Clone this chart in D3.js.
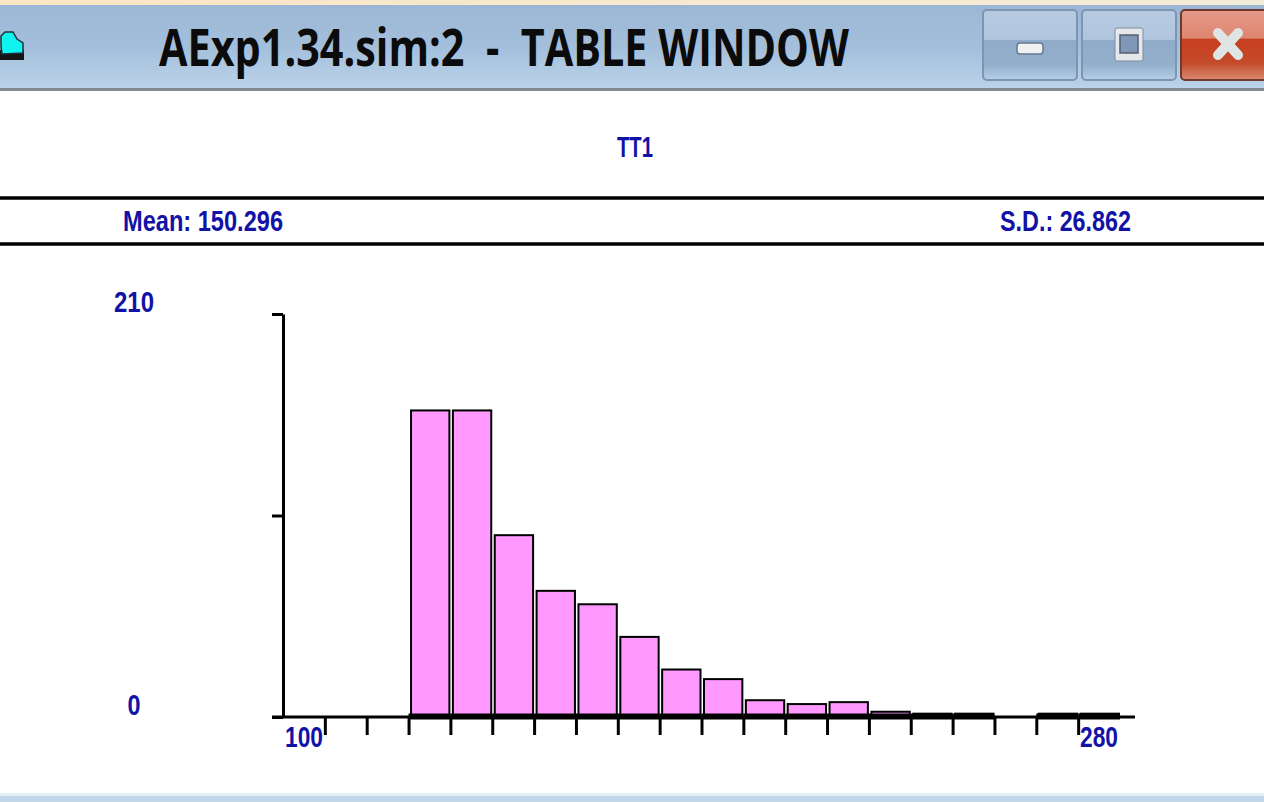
<!DOCTYPE html>
<html>
<head>
<meta charset="utf-8">
<title>TABLE WINDOW</title>
<script src="https://cdn.jsdelivr.net/npm/d3@7"></script>
<style>
  html, body { margin: 0; padding: 0; background: #fff; overflow: hidden; }
  svg { display: block; }
  .blue { fill: #1212a6; font-family: "Liberation Sans Narrow", "Liberation Sans", sans-serif; font-weight: 700; }
</style>
</head>
<body>
<div id="chart"></div>
<script>
// values
const windowTitle = 'AExp1.34.sim:2  -  TABLE WINDOW'
const variableName = 'TT1'
const meanLabel = 'Mean: 150.296'
const sdLabel = 'S.D.: 26.862'
const xMin = 100
const xMax = 280
const yTickValues = [0, 105, 210]
const yLabels = [0, 210]
const xLabels = [100, 280]
const binCounts = [0, 0, 0, 160, 160, 95, 66, 59, 42, 25, 20, 9, 7, 8, 3, 2, 2, 0, 2, 2]

const width = 1264, height = 802
const binWidth = (xMax - xMin) / binCounts.length
const bins = binCounts.map((count, i) => ({ x0: xMin + i * binWidth, x1: xMin + (i + 1) * binWidth, count }))

const svg = d3.select('#chart').append('svg')
  .attr('width', width)
  .attr('height', height)

svg.append('rect').attr('width', width).attr('height', height).attr('fill', '#fff')

const defs = svg.append('defs')
function gradient(id, stops, horizontal) {
  const g = defs.append('linearGradient').attr('id', id)
    .attr('x1', 0).attr('y1', 0)
    .attr('x2', horizontal ? 1 : 0).attr('y2', horizontal ? 0 : 1)
  stops.forEach(s => g.append('stop').attr('offset', s[0]).attr('stop-color', s[1]))
}
gradient('strip', [[0, '#fbe6c4'], [1, '#f3ecd8']], true)
gradient('bar', [[0, '#9bb7d5'], [0.5, '#a3bfdb'], [1, '#bcd3ea']])
gradient('btn', [[0, '#b6cbe2'], [0.42, '#b0c6de'], [0.43, '#90abc9'], [0.78, '#94afcc'], [1, '#b5cee6']])
gradient('close', [[0, '#e59a88'], [0.4, '#dd8672'], [0.42, '#c8401f'], [0.75, '#c44a2a'], [1, '#d98a70']])

// window frame
svg.append('rect').attr('width', width).attr('height', 5).attr('fill', 'url(#strip)')
svg.append('rect').attr('y', 5).attr('width', width).attr('height', 84).attr('fill', 'url(#bar)')
svg.append('rect').attr('y', 88).attr('width', width).attr('height', 3).attr('fill', '#858a90')
svg.append('rect').attr('y', 793).attr('width', width).attr('height', 3).attr('fill', '#e6eff6')
svg.append('rect').attr('y', 796).attr('width', width).attr('height', 6).attr('fill', '#c3d7ea')

// app icon, dark shadow under a cyan blob
svg.append('path')
  .attr('d', 'M0 50 L24 50 L24 60 L0 60 Z')
  .attr('fill', '#141414')
svg.append('path')
  .attr('d', 'M1 36 L5 32 L13 32 L17 39 L23 43 L23 53 L2 54 L1 46 Z')
  .attr('fill', '#10f4f0').attr('stroke', '#20303a').attr('stroke-width', 1.5)

svg.append('text')
  .attr('x', 159).attr('y', 66)
  .attr('xml:space', 'preserve')
  .attr('textLength', 690).attr('lengthAdjust', 'spacingAndGlyphs')
  .attr('font-family', '"Open Sans", "Noto Sans", sans-serif')
  .attr('font-weight', 700).attr('font-size', 52)
  .attr('fill', '#0b0b0b')
  .text(windowTitle)

// window buttons
const buttons = [
  { x: 983, w: 94, fill: 'url(#btn)', stroke: '#7d95b0' },
  { x: 1082, w: 94, fill: 'url(#btn)', stroke: '#7d95b0' },
  { x: 1181, w: 90, fill: 'url(#close)', stroke: '#6e3a30' }
]
svg.selectAll('.win-btn').data(buttons).enter().append('rect')
  .attr('class', 'win-btn')
  .attr('x', d => d.x).attr('y', 10)
  .attr('width', d => d.w).attr('height', 70)
  .attr('rx', 4)
  .attr('fill', d => d.fill).attr('stroke', d => d.stroke).attr('stroke-width', 2)

svg.append('rect').attr('x', 1017).attr('y', 43).attr('width', 26).attr('height', 11).attr('rx', 3)
  .attr('fill', '#eef0f2').attr('stroke', '#64788f').attr('stroke-width', 1.5)
svg.append('rect').attr('x', 1115).attr('y', 28).attr('width', 28).attr('height', 33).attr('rx', 2)
  .attr('fill', '#e4e8ec').attr('stroke', '#7d8c9e').attr('stroke-width', 1)
svg.append('rect').attr('x', 1120).attr('y', 35).attr('width', 18).attr('height', 18)
  .attr('fill', '#7f98b8').attr('stroke', '#56606c').attr('stroke-width', 1.5)
svg.append('path').attr('d', 'M1218 33 L1238 55 M1238 33 L1218 55')
  .attr('stroke', '#dfe4e4').attr('stroke-width', 10).attr('stroke-linecap', 'round')

// header rows
svg.selectAll('.rule').data([198, 244]).enter().append('line')
  .attr('class', 'rule')
  .attr('x1', 0).attr('x2', width)
  .attr('y1', d => d).attr('y2', d => d)
  .attr('stroke', '#000').attr('stroke-width', 3.5)

function blueText(str, x, y, len, anchor) {
  return svg.append('text')
    .attr('class', 'blue')
    .attr('x', x).attr('y', y)
    .attr('font-size', 29)
    .attr('text-anchor', anchor || 'start')
    .attr('textLength', len).attr('lengthAdjust', 'spacingAndGlyphs')
    .text(str)
}
blueText(variableName, 617, 157, 36)
blueText(meanLabel, 123, 231, 160)
blueText(sdLabel, 1000, 231, 131)

// scales
const xScale = d3.scaleLinear().domain([xMin, xMax]).range([283, 1120])
const yScale = d3.scaleLinear().domain([0, 210]).range([717, 314])

// bars
svg.selectAll('.bin')
  .data(bins.filter(d => d.count > 0))
  .enter()
  .append('rect')
  .attr('class', 'bin')
  .attr('x', d => xScale(d.x0) + 2.5)
  .attr('y', d => yScale(d.count) + 0.5)
  .attr('width', d => xScale(d.x1) - xScale(d.x0) - 3.5)
  .attr('height', d => yScale(0) - yScale(d.count) - 0.5)
  .attr('fill', '#ff99ff')
  .attr('stroke', '#000')
  .attr('stroke-width', 2)

// thick baseline under the filled bins
svg.selectAll('.bin-base')
  .data(bins.filter(d => d.count > 0))
  .enter()
  .append('line')
  .attr('class', 'bin-base')
  .attr('x1', d => xScale(d.x0))
  .attr('x2', d => xScale(d.x1))
  .attr('y1', yScale(0) - 0.5).attr('y2', yScale(0) - 0.5)
  .attr('stroke', '#000').attr('stroke-width', 6)

// axes
const xAxis = d3.axisBottom(xScale)
  .tickValues(d3.range(1, binCounts.length).map(i => xMin + i * binWidth))
  .tickSize(18)
  .tickSizeOuter(0)
  .tickFormat('')
const xAxisG = svg.append('g')
  .attr('transform', `translate(0,${yScale(0)})`)
  .call(xAxis)
xAxisG.select('.domain').remove()
xAxisG.selectAll('.tick line').attr('stroke', '#000').attr('stroke-width', 3)
xAxisG.append('line')
  .attr('x1', 272).attr('x2', 1135)
  .attr('stroke', '#000').attr('stroke-width', 3)

const yAxis = d3.axisLeft(yScale)
  .tickValues(yTickValues)
  .tickSize(11)
  .tickSizeOuter(0)
  .tickFormat('')
const yAxisG = svg.append('g')
  .attr('transform', `translate(${xScale(xMin)},0)`)
  .call(yAxis)
yAxisG.select('.domain').attr('stroke', '#000').attr('stroke-width', 3)
yAxisG.selectAll('.tick line').attr('stroke', '#000').attr('stroke-width', 3)

// axis labels sit apart from the ticks, as in the original window
yLabels.forEach(v => {
  blueText(String(v), 134, yScale(v) - 2, v === 0 ? 13 : 40, 'middle')
})
blueText(String(xLabels[0]), 285, 747, 38)
blueText(String(xLabels[1]), 1080, 747, 38)
</script>
</body>
</html>
